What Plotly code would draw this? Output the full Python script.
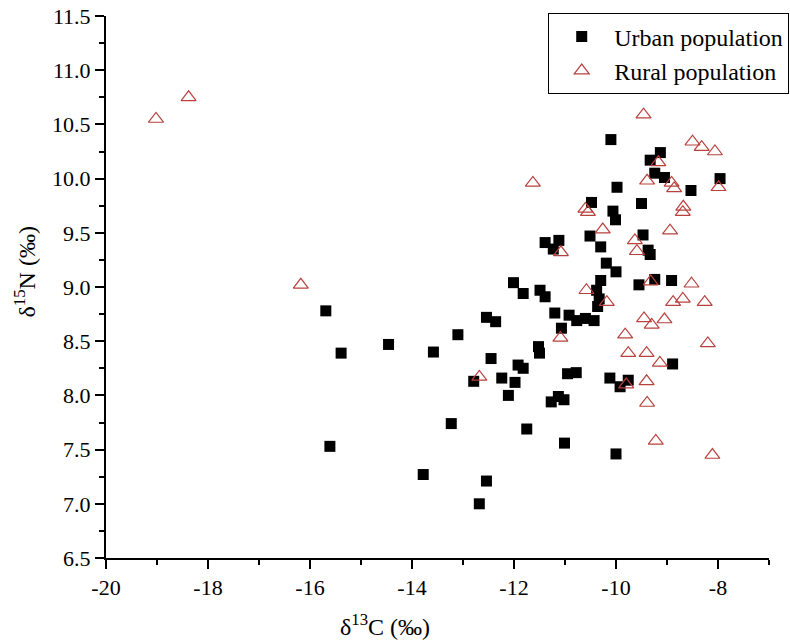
import plotly.graph_objects as go

# Urban population (filled squares)
urban_c13 = [-15.69, -15.39, -15.61, -14.46, -13.58, -13.10, -13.23, -13.78, -12.54, -12.36,
             -12.45, -12.79, -12.24, -11.98, -12.11, -12.54, -12.68, -12.01, -11.82, -11.49,
             -11.39, -11.52, -11.50, -11.92, -11.82, -11.75, -11.27, -11.13, -11.02, -11.01,
             -10.95, -10.78, -10.12, -9.76, -9.92, -10.00, -8.89, -11.20, -11.07, -10.92,
             -10.77, -10.60, -10.43, -10.38, -10.33, -10.36, -10.30, -10.19, -10.00, -11.39,
             -11.12, -11.23, -10.51, -10.30, -9.47, -9.37, -9.33, -9.55, -9.24, -8.91,
             -10.10, -9.13, -9.33, -9.24, -9.05, -7.96, -8.53, -9.98, -10.48, -9.50,
             -10.06, -10.01]
urban_n15 = [8.78, 8.39, 7.53, 8.47, 8.40, 8.56, 7.74, 7.27, 8.72, 8.68,
             8.34, 8.13, 8.16, 8.12, 8.00, 7.21, 7.00, 9.04, 8.94, 8.97,
             8.91, 8.45, 8.39, 8.28, 8.25, 7.69, 7.94, 7.99, 7.96, 7.56,
             8.20, 8.21, 8.16, 8.14, 8.08, 7.46, 8.29, 8.76, 8.62, 8.74,
             8.69, 8.71, 8.69, 8.97, 8.89, 8.82, 9.06, 9.22, 9.14, 9.41,
             9.43, 9.35, 9.47, 9.37, 9.48, 9.34, 9.30, 9.02, 9.07, 9.06,
             10.36, 10.24, 10.17, 10.05, 10.01, 10.00, 9.89, 9.92, 9.78, 9.77,
             9.70, 9.62]

# Rural population (open triangles)
rural_c13 = [-19.02, -18.38, -16.18, -9.46, -8.50, -8.32, -8.06, -11.63, -9.17, -9.39,
             -8.91, -8.86, -7.99, -10.60, -10.55, -8.68, -8.69, -10.26, -8.94, -9.63,
             -9.59, -11.08, -9.32, -8.52, -10.58, -8.69, -8.88, -8.26, -10.18, -9.45,
             -9.30, -9.05, -9.82, -8.20, -9.76, -9.40, -9.14, -9.40, -9.80, -9.39,
             -9.22, -8.11, -11.09, -12.68]
rural_n15 = [10.55, 10.75, 9.02, 10.59, 10.34, 10.29, 10.25, 9.96, 10.15, 9.98,
             9.96, 9.91, 9.92, 9.72, 9.69, 9.74, 9.69, 9.53, 9.52, 9.43,
             9.33, 9.32, 9.05, 9.03, 8.97, 8.89, 8.86, 8.86, 8.86, 8.71,
             8.65, 8.70, 8.56, 8.48, 8.39, 8.39, 8.30, 8.13, 8.10, 7.93,
             7.58, 7.45, 8.53, 8.17]

x_ticks = [-20, -18, -16, -14, -12, -10, -8]
x_ticklabels = ["-20", "-18", "-16", "-14", "-12", "-10", "-8"]
y_ticks = [6.5, 7.0, 7.5, 8.0, 8.5, 9.0, 9.5, 10.0, 10.5, 11.0, 11.5]
y_ticklabels = ["6.5", "7.0", "7.5", "8.0", "8.5", "9.0", "9.5", "10.0", "10.5", "11.0", "11.5"]

FONT = "Liberation Serif"

fig = go.Figure()
fig.add_trace(go.Scatter(
    x=urban_c13, y=urban_n15, mode="markers", name="Urban population",
    marker=dict(symbol="square", size=11, color="black", line=dict(width=0)),
))
fig.add_trace(go.Scatter(
    x=rural_c13, y=rural_n15, mode="markers", name="Rural population",
    marker=dict(symbol="triangle-up-open", size=13, color="#b8413e",
                line=dict(width=1.2, color="#b8413e")),
))

fig.add_annotation(
    text="δ<sup>13</sup>C (‰)", xref="paper", yref="paper", x=0.421, y=-0.1235,
    showarrow=False, font=dict(family=FONT, size=24, color="black"),
    xanchor="center", yanchor="middle",
)
fig.add_annotation(
    text="δ<sup>15</sup>N (‰)", xref="paper", yref="paper", x=-0.122, y=0.527,
    showarrow=False, textangle=-90, font=dict(family=FONT, size=24, color="black"),
    xanchor="center", yanchor="middle",
)

fig.update_layout(
    width=790, height=643,
    font=dict(family=FONT, size=22, color="black"),
    margin=dict(l=106, r=21, t=16, b=85, autoexpand=False),
    paper_bgcolor="white", plot_bgcolor="white",
    showlegend=True,
    xaxis=dict(
        range=[-20, -7], tickmode="array", tickvals=x_ticks, ticktext=x_ticklabels,
        showline=True, linecolor="black", linewidth=2, mirror=False,
        showgrid=False, zeroline=False,
        ticks="outside", ticklen=9, tickwidth=2, tickcolor="black",
        tickfont=dict(family=FONT, size=22, color="black"),
        minor=dict(dtick=1, tick0=-19, ticks="outside", ticklen=5, tickwidth=2,
                   tickcolor="black", showgrid=False),
    ),
    yaxis=dict(
        range=[6.5, 11.5], tickmode="array", tickvals=y_ticks, ticktext=y_ticklabels,
        showline=True, linecolor="black", linewidth=2, mirror=False,
        showgrid=False, zeroline=False,
        ticks="outside", ticklen=9, tickwidth=2, tickcolor="black",
        tickfont=dict(family=FONT, size=22, color="black"),
        minor=dict(dtick=0.25, tick0=6.5, ticks="outside", ticklen=5, tickwidth=2,
                   tickcolor="black", showgrid=False),
    ),
    legend=dict(
        x=0.667, y=1.005, xanchor="left", yanchor="top",
        bordercolor="black", borderwidth=1, bgcolor="white",
        font=dict(family=FONT, size=24, color="black"),
        itemwidth=55, tracegroupgap=0,
    ),
)

fig.write_html("out.html")
